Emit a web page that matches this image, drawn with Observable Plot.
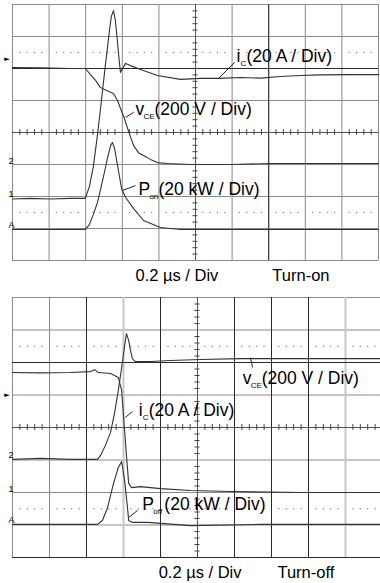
<!DOCTYPE html>
<html>
<head>
<meta charset="utf-8">
<script src="https://cdn.jsdelivr.net/npm/d3@7"></script>
<script src="https://cdn.jsdelivr.net/npm/@observablehq/plot@0.6"></script>
<style>
  html, body { margin: 0; padding: 0; background: #fff; }
  svg { display: block; }
</style>
</head>
<body>
<div id="chart"></div>
<script>
// ---- Data: time in divisions (0.2 µs / Div), amplitude in divisions ----
// Turn-on
const onIc = [[0,-2.08],[0.49,-2.06],[1.04,-2.08],[1.58,-2.06],[1.99,-2.06],[2.10,-1.69],[2.21,-1.06],[2.32,-0.09],[2.43,1.00],[2.54,2.13],[2.65,3.19],[2.70,3.63],[2.76,3.81],[2.81,3.50],[2.87,2.81],[2.92,2.19],[2.95,1.88],[3.01,2.00],[3.09,2.16],[3.22,2.09],[3.50,1.97],[3.96,1.78],[4.59,1.66],[5.14,1.69],[5.63,1.69],[6.23,1.72],[6.78,1.70],[7.32,1.75],[7.87,1.78],[8.42,1.80],[9.23,1.81],[10,1.81]];
const onVce = [[0,2.03],[0.77,2.02],[1.58,2.00],[1.99,2.00],[2.13,1.81],[2.27,1.63],[2.40,1.41],[2.57,1.31],[2.76,1.22],[2.87,1.00],[2.95,0.75],[3.03,0.53],[3.11,0.25],[3.20,-0.06],[3.31,-0.41],[3.44,-0.63],[3.58,-0.72],[3.77,-0.84],[3.96,-0.94],[4.23,-0.97],[4.86,-1.00],[5.96,-1.00],[7.05,-0.97],[8.14,-0.97],[10,-0.97]];
const onP = [[0,-3.03],[1.04,-3.03],[1.99,-3.03],[2.10,-2.88],[2.21,-2.56],[2.32,-2.19],[2.40,-1.81],[2.51,-1.25],[2.60,-0.78],[2.68,-0.41],[2.73,-0.31],[2.79,-0.50],[2.87,-1.03],[2.98,-1.75],[3.09,-2.03],[3.31,-2.38],[3.58,-2.75],[4.04,-2.97],[4.59,-3.03],[6.78,-3.03],[10,-3.03]];
// Turn-off
const offVce = [[0,-0.98],[0.76,-0.95],[1.57,-0.98],[2.30,-0.98],[2.38,-0.86],[2.51,-0.55],[2.65,-0.15],[2.76,0.46],[2.86,1.14],[2.97,2.00],[3.03,2.52],[3.08,2.89],[3.14,2.68],[3.19,2.37],[3.24,2.12],[3.32,2.03],[3.73,2.03],[4.27,2.06],[5.08,2.09],[6.16,2.12],[7.24,2.12],[8.32,2.12],[9.95,2.12]];
const offIc = [[0,1.69],[0.76,1.68],[1.57,1.69],[2.11,1.72],[2.22,1.78],[2.32,1.69],[2.65,1.66],[2.86,1.54],[2.95,1.14],[3.03,-0.09],[3.08,-0.86],[3.14,-1.72],[3.22,-1.85],[3.46,-1.82],[4.00,-1.88],[4.81,-1.94],[5.89,-1.97],[7.78,-2.00],[9.95,-2.00]];
const offP = [[0,-2.98],[1.30,-2.98],[2.30,-2.98],[2.43,-2.86],[2.57,-2.46],[2.73,-1.72],[2.86,-1.23],[2.95,-1.05],[3.03,-1.63],[3.11,-2.49],[3.14,-2.86],[3.24,-2.92],[3.65,-2.92],[4.81,-3.02],[6.70,-2.98],[9.95,-2.98]];

// Labels
const onLabels = [
  {t:6.12, y:2.19, main:"i", sub:"C", rest:"(20 A / Div)"},
  {t:3.36, y:0.56, main:"v", sub:"CE", rest:"(200 V / Div)"},
  {t:3.44, y:-1.94, main:"P", sub:"on", rest:"(20 kW / Div)"}
];
const offLabels = [
  {t:6.22, y:1.35, main:"v", sub:"CE", rest:"(200 V / Div)"},
  {t:3.41, y:0.34, main:"i", sub:"C", rest:"(20 A / Div)"},
  {t:3.51, y:-2.55, main:"P", sub:"off", rest:"(20 kW / Div)"}
];
const onLeaders = [[5.63,1.69,6.07,2.19],[3.09,0.47,3.31,0.63],[3.01,-1.81,3.36,-1.66]];
const offLeaders = [[6.43,2.15,6.49,1.85],[3.05,0.31,3.24,0.49],[3.14,-2.77,3.38,-2.55]];
const channels = ["2","1","A"];
const onGrounds = [-1.0,-2.06,-3.03];
const offGrounds = [-0.98,-2.0,-2.98];
const onFooter = [{t:3.36, text:"0.2 µs / Div"},{t:7.10, text:"Turn-on"}];
const offFooter = [{t:3.95, text:"0.2 µs / Div"},{t:7.16, text:"Turn-off"}];
const onTrig = 2.31, offTrig = 1.02;

// label offsets (px) for subscripts and rest
const subDx = {i:4, v:8, P:11};
const restDx = {"i":10, "v":19, "P":20, "Poff":22};

const FONT = "Arial, 'Liberation Sans', Helvetica, sans-serif";

function panel({width, height, xRange, yRange, ic, vce, p, labels, leaders, grounds, footer, trig, darkV, darkH, lightV}) {
  const divs = d3.range(0, 11);
  const hdivs = d3.range(-4, 5);
  const fine = d3.range(0, 51).map(k => k / 5).filter(v => Math.abs(v - Math.round(v)) > 1e-6);
  const fineY = d3.range(-20, 21).map(k => k / 5).filter(v => Math.abs(v - Math.round(v)) > 1e-6);
  const labelMarks = labels.flatMap(l => {
    const key = l.main === "P" && l.sub === "off" ? "Poff" : l.main;
    return [
      Plot.text([l], {x:"t", y:"y", text:"main", textAnchor:"start", lineAnchor:"bottom", fontSize:17.5, fill:"#000"}),
      Plot.text([l], {x:"t", y:"y", text:"sub", textAnchor:"start", lineAnchor:"bottom", fontSize:8, dx:subDx[l.main], dy:4, fill:"#000"}),
      Plot.text([l], {x:"t", y:"y", text:"rest", textAnchor:"start", lineAnchor:"bottom", fontSize:17.5, dx:restDx[key], fill:"#000"})
    ];
  });
  return Plot.plot({
    width, height,
    margin: 0,
    x: {domain:[0,10], range:xRange, axis:null},
    y: {domain:[-4,4], range:yRange, axis:null},
    style: {fontFamily: FONT, background:"#fff", overflow:"visible"},
    marks: [
      Plot.ruleX(divs, {x:d=>d, y1:-4, y2:4, stroke:"#8a8a8a", strokeWidth:1}),
      Plot.ruleY(hdivs, {y:d=>d, x1:0, x2:10, stroke:"#8a8a8a", strokeWidth:1}),
      Plot.ruleX(lightV, {x:d=>d, y1:-4, y2:4, stroke:"#c8c8c8", strokeWidth:2}),
      Plot.ruleX(darkV, {x:d=>d, y1:-4, y2:4, stroke:"#2a2a2a", strokeWidth:1}),
      Plot.ruleY(darkH, {y:d=>d, x1:0, x2:10, stroke:"#2a2a2a", strokeWidth:1}),
      Plot.ruleX([5], {x:d=>d, y1:-4, y2:4, stroke:"#555", strokeWidth:1}),
      Plot.ruleY([0], {y:d=>d, x1:0, x2:10, stroke:"#555", strokeWidth:1}),
      Plot.ruleX(fine, {x:d=>d, y1:-0.09, y2:0.09, stroke:"#444", strokeWidth:1}),
      Plot.ruleY(fineY, {y:d=>d, x1:4.93, x2:5.07, stroke:"#444", strokeWidth:1}),
      Plot.dot(fine, {x:d=>d, y:2.5, r:0.7, fill:"#888", stroke:null}),
      Plot.dot(fine, {x:d=>d, y:-2.5, r:0.7, fill:"#888", stroke:null}),
      Plot.line(ic, {x:d=>d[0], y:d=>d[1], stroke:"#333", strokeWidth:1.1}),
      Plot.line(vce, {x:d=>d[0], y:d=>d[1], stroke:"#333", strokeWidth:1.1}),
      Plot.line(p, {x:d=>d[0], y:d=>d[1], stroke:"#333", strokeWidth:1.1}),
      Plot.link(leaders, {x1:d=>d[0], y1:d=>d[1], x2:d=>d[2], y2:d=>d[3], stroke:"#222", strokeWidth:1}),
      ...labelMarks,
      Plot.text(channels, {x:-0.11, y:(d,i)=>grounds[i], text:d=>d, textAnchor:"start", lineAnchor:"bottom", dy:-1, fontSize:9, fill:"#000"}),
      Plot.text(["►"], {x:-0.15, y:trig, text:d=>d, fontSize:7, fill:"#000", fontFamily:"DejaVu Sans"}),
      Plot.text(footer, {x:"t", y:-4.63, text:"text", textAnchor:"start", lineAnchor:"bottom", fontSize:16.5, fill:"#000"})
    ]
  });
}

const topPanel = panel({
  width:380, height:290, xRange:[12,378], yRange:[260,4],
  ic:onIc, vce:onVce, p:onP, labels:onLabels, leaders:onLeaders,
  grounds:onGrounds, footer:onFooter, trig:onTrig,
  darkV:[7], darkH:[2], lightV:[]
});
const bottomPanel = panel({
  width:380, height:293, xRange:[12,382], yRange:[267,7],
  ic:offIc, vce:offVce, p:offP, labels:offLabels, leaders:offLeaders,
  grounds:offGrounds, footer:offFooter, trig:offTrig,
  darkV:[2,4,6,7,8], darkH:[2,-4], lightV:[3,9]
});
document.getElementById("chart").append(topPanel, bottomPanel);
</script>
</body>
</html>
